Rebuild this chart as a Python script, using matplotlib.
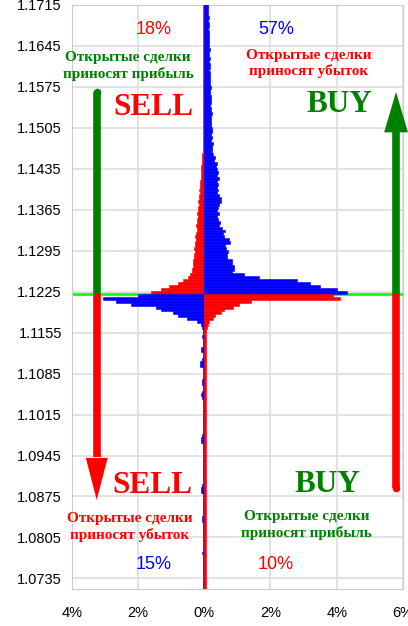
import numpy as np
import matplotlib
matplotlib.use('Agg')
import matplotlib.pyplot as plt

# current price and bin size of the position book
price_now = 1.1221
bin_step = 0.0005

# % of open positions per price bin, index 0 = bin next to the current price
# bins above the price, going up
short_above = [1.6, 1.3, 1.05, 0.8, 0.65, 0.5, 0.42, 0.37, 0.38, 0.35,
               0.33, 0.34, 0.31, 0.32, 0.29, 0.3, 0.27, 0.28, 0.26, 0.28,
               0.25, 0.23, 0.22, 0.24, 0.21, 0.22, 0.2, 0.22, 0.2, 0.18,
               0.17, 0.18, 0.16, 0.15, 0.14, 0.15, 0.13, 0.14, 0.12, 0.11,
               0.1, 0.11, 0.09, 0.1, 0.08, 0.07, 0.07, 0.06, 0.05, 0.04,
               0.05, 0.04, 0.03, 0.05, 0.04, 0.03, 0.04, 0.05, 0.03, 0.04,
               0.03, 0.04, 0.05, 0.03, 0.04, 0.03, 0.05, 0.04, 0.03, 0.04,
               0.04, 0.03, 0.05, 0.04, 0.03, 0.04, 0.03, 0.05, 0.04, 0.03,
               0.04, 0.05, 0.03, 0.04, 0.03, 0.04, 0.05, 0.03, 0.04, 0.03,
               0.04, 0.03, 0.05, 0.04, 0.03, 0.04, 0.03, 0.04, 0.05]
long_above = [4.3, 4.0, 3.5, 3.2, 2.8, 1.65, 1.2, 0.85, 0.9, 0.9,
              0.85, 0.85, 0.7, 0.7, 0.72, 0.65, 0.62, 0.78, 0.75, 0.6,
              0.58, 0.62, 0.55, 0.45, 0.48, 0.42, 0.4, 0.46, 0.38, 0.42,
              0.45, 0.5, 0.52, 0.44, 0.4, 0.43, 0.38, 0.42, 0.4, 0.45,
              0.38, 0.42, 0.4, 0.35, 0.38, 0.3, 0.32, 0.26, 0.22, 0.24,
              0.22, 0.25, 0.21, 0.23, 0.2, 0.24, 0.22, 0.2, 0.21, 0.19,
              0.2, 0.22, 0.19, 0.2, 0.18, 0.21, 0.19, 0.2, 0.17, 0.18,
              0.19, 0.17, 0.18, 0.16, 0.18, 0.17, 0.15, 0.17, 0.16, 0.15,
              0.16, 0.14, 0.15, 0.16, 0.14, 0.15, 0.13, 0.14, 0.13, 0.14,
              0.12, 0.13, 0.14, 0.12, 0.13, 0.12, 0.11, 0.12, 0.12]
# bins below the price, going down
short_below = [2.0, 3.05, 2.65, 2.2, 1.45, 1.3, 0.95, 0.8, 0.52, 0.22,
               0.1, 0.06, 0.05, 0.04, 0.06, 0.05, 0.04, 0.05, 0.1, 0.11,
               0.05, 0.04, 0.06, 0.13, 0.12, 0.05, 0.04, 0.05, 0.04, 0.07,
               0.06, 0.04, 0.05, 0.08, 0.09, 0.07, 0.04, 0.05, 0.04, 0.03,
               0.05, 0.04, 0.03, 0.05, 0.04, 0.05, 0.03, 0.04, 0.06, 0.1,
               0.09, 0.04, 0.05, 0.03, 0.04, 0.05, 0.04, 0.03, 0.05, 0.04,
               0.03, 0.05, 0.04, 0.03, 0.05, 0.06, 0.1, 0.09, 0.04, 0.05,
               0.03, 0.04, 0.05, 0.03, 0.04, 0.05, 0.06, 0.06, 0.04, 0.03,
               0.05, 0.04, 0.03, 0.04, 0.05, 0.03, 0.05, 0.05, 0.06, 0.04,
               0.03, 0.04, 0.05, 0.03, 0.04, 0.03, 0.05, 0.04, 0.03, 0.04, 0.05]
long_below = [3.9, 4.1, 1.4, 1.05, 0.87, 0.6, 0.5, 0.33, 0.25, 0.15,
              0.1, 0.08, 0.06, 0.05, 0.06, 0.05, 0.04, 0.05, 0.06, 0.05,
              0.04, 0.05, 0.05, 0.04, 0.05, 0.04, 0.05, 0.05, 0.04, 0.05,
              0.05, 0.04, 0.05, 0.04, 0.05, 0.05, 0.04, 0.05, 0.04, 0.05,
              0.05, 0.04, 0.05, 0.05, 0.04, 0.05, 0.04, 0.05, 0.05, 0.04,
              0.05, 0.04, 0.05, 0.05, 0.04, 0.05, 0.04, 0.05, 0.05, 0.04,
              0.05, 0.05, 0.04, 0.05, 0.04, 0.05, 0.05, 0.04, 0.05, 0.04,
              0.05, 0.05, 0.04, 0.05, 0.04, 0.05, 0.05, 0.04, 0.05, 0.04,
              0.05, 0.05, 0.04, 0.05, 0.04, 0.05, 0.05, 0.04, 0.05, 0.04,
              0.05, 0.05, 0.04, 0.05, 0.04, 0.05, 0.05, 0.04, 0.05, 0.04, 0.05]

# total share in each quadrant
share_sell_up, share_buy_up = 18, 57
share_sell_down, share_buy_down = 15, 10

price_ticks = np.arange(1.0735, 1.1716, 0.007)
pct_ticks = [-4, -2, 0, 2, 4, 6]

RED = '#ff0000'
BLUE = '#0000ff'
GREEN = '#008000'

fig = plt.figure(figsize=(4.08, 6.26), dpi=100)
ax = fig.add_axes([71.7 / 408, 37 / 626, 331.3 / 408, 584.3 / 626])

y_up = price_now + (np.arange(len(long_above)) + 0.5) * bin_step
y_dn = price_now - (np.arange(len(long_below)) + 0.5) * bin_step
h = bin_step
bar_kw = dict(height=h, lw=0.4, zorder=3)
ax.barh(y_up, -np.array(short_above), color=RED, edgecolor=RED, **bar_kw)
ax.barh(y_up, long_above, color=BLUE, edgecolor=BLUE, **bar_kw)
ax.barh(y_dn, -np.array(short_below), color=BLUE, edgecolor=BLUE, **bar_kw)
ax.barh(y_dn, long_below, color=RED, edgecolor=RED, **bar_kw)

# current price
ax.axhline(price_now, color='#00ff00', lw=1.9, zorder=2)

# side arrows
x_l, x_r = -3.245, 5.79
lw_bar = 5.5


def bar(x, y_end, color, round_end=True):
    ax.plot([x, x], [price_now, y_end], color=color, lw=lw_bar,
            solid_capstyle='butt', zorder=4, clip_on=False)
    if round_end:
        ax.plot([x], [y_end], 'o', color=color, ms=lw_bar, mew=0,
                zorder=4, clip_on=False)


def head(x, y_base, y_tip, half_w, color):
    ax.fill([x - half_w, x + half_w, x], [y_base, y_base, y_tip],
            color=color, lw=0, zorder=4, clip_on=False)


bar(x_l, 1.1566, GREEN)
bar(x_l, 1.0942, RED, round_end=False)
head(x_l, 1.0941, 1.0869, 0.33, RED)
bar(x_r, 1.1498, GREEN, round_end=False)
head(x_r, 1.1497, 1.1566, 0.36, GREEN)
bar(x_r, 1.0889, RED)

# labels
serif = dict(family='Liberation Serif', weight='bold', ha='center', va='center',
             transform=ax.transAxes, zorder=5)
sans = dict(family='Liberation Sans', fontsize=13, ha='center', va='center',
            transform=ax.transAxes, zorder=5)
profit = 'Открытые сделки\nприносят прибыль'
loss = 'Открытые сделки\nприносят убыток'

ax.text(0.247, 0.9576, f'{share_sell_up}%', color=RED, **sans)
ax.text(0.617, 0.9576, f'{share_buy_up}%', color=BLUE, **sans)
ax.text(0.248, 0.0411, f'{share_sell_down}%', color=BLUE, **sans)
ax.text(0.617, 0.0411, f'{share_buy_down}%', color=RED, **sans)

ax.text(0.170, 0.8951, profit, color=GREEN, fontsize=11, linespacing=1.25, **serif)
ax.text(0.716, 0.8994, loss, color=RED, fontsize=11, linespacing=1.25, **serif)
ax.text(0.176, 0.1061, loss, color=RED, fontsize=11, linespacing=1.25, **serif)
ax.text(0.709, 0.1095, profit, color=GREEN, fontsize=11, linespacing=1.25, **serif)

ax.text(0.246, 0.824, 'SELL', color=RED, fontsize=22.5, **serif)
ax.text(0.807, 0.8284, 'BUY', color=GREEN, fontsize=22.5, **serif)
ax.text(0.243, 0.1763, 'SELL', color=RED, fontsize=22.5, **serif)
ax.text(0.772, 0.1797, 'BUY', color=GREEN, fontsize=22.5, **serif)

# axes
ax.set_xlim(-4, 6)
ax.set_ylim(1.0717, 1.1715)
ax.set_yticks(price_ticks)
ax.set_yticklabels([f'{p:.4f}' for p in price_ticks])
ax.set_xticks(pct_ticks)
ax.set_xticklabels([f'{abs(v)}%' for v in pct_ticks])
ax.tick_params(length=0, labelsize=10.5)
ax.tick_params(axis='y', pad=7)
ax.tick_params(axis='x', pad=12)
for lab in ax.get_xticklabels() + ax.get_yticklabels():
    lab.set_family('Liberation Sans')
ax.grid(True, color='#dddddd', lw=1.2, zorder=0)
ax.set_axisbelow(True)
for s in ax.spines.values():
    s.set_color('#cccccc')

fig.savefig('out.png', dpi=100)
